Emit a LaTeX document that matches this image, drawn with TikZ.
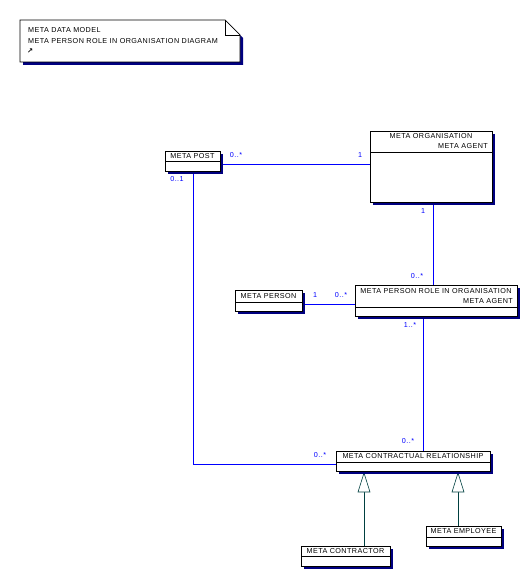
\documentclass[tikz,border=0pt]{standalone}
\usepackage{fontspec}
\setmainfont{Liberation Sans}
\newfontfamily\dfont[LetterSpace=6]{Liberation Sans}
\newfontfamily\symfont{DejaVu Sans}
\usetikzlibrary{arrows.meta}
\definecolor{assoc}{HTML}{0000FF}
\definecolor{shad}{HTML}{000080}
\definecolor{gen}{HTML}{004040}
\tikzset{
  x=1pt,y=-1pt,
  lbl/.style={font=\dfont\fontsize{7.2}{8}\selectfont, inner sep=0pt},
  mult/.style={font=\dfont\fontsize{7.2}{8}\selectfont, text=assoc, inner sep=0pt},
  assocline/.style={draw=assoc, line width=0.8pt},
  genline/.style={draw=gen, line width=0.8pt},
  boxline/.style={draw=black, line width=0.7pt, fill=white},
  shadowfill/.style={fill=shad}
}
\newcommand{\umlbox}[6]{% name, x1, y1, x2, y2, divider y
  \fill[shadowfill] (#2+3,#3+3) rectangle (#4+3,#5+3);
  \draw[boxline] (#2,#3) rectangle (#4,#5);
  \draw[black, line width=0.7pt] (#2,#6) -- (#4,#6);
  \coordinate (#1-nw) at (#2,#3);
  \coordinate (#1-se) at (#4,#5);
}
\begin{document}
\begin{tikzpicture}
\useasboundingbox (0,0) rectangle (531,580);
% note
\fill[shad] (23,23) -- (228,23) -- (243,38) -- (243,65) -- (23,65) -- cycle;
\draw[boxline] (20,20) -- (225,20) -- (240,35) -- (240,62) -- (20,62) -- cycle;
\draw[black, line width=0.7pt] (225,20) -- (225,35) -- (240,35);
\node[lbl, anchor=west] (n1) at (28,30) {META DATA MODEL};
\node[lbl, anchor=west] (n2) at (28,41) {META PERSON ROLE IN ORGANISATION DIAGRAM};
\node[lbl, anchor=west] (n3) at (27,51) {\symfont\bfseries ↗};

% connectors first (under boxes)
\coordinate (postR) at (220,164);
\coordinate (orgL) at (370,164);
\draw[assocline] (postR) -- (orgL);
\coordinate (postB) at (193,171);
\coordinate (crL) at (336,464);
\draw[assocline] (postB) |- (crL);
\coordinate (orgB) at (433,202);
\coordinate (prioT) at (433,285);
\draw[assocline] (orgB) -- (prioT);
\coordinate (personR) at (302,304);
\coordinate (prioL) at (355,304);
\draw[assocline] (personR) -- (prioL);
\coordinate (prioB) at (423,316);
\coordinate (crT) at (423,451);
\draw[assocline] (prioB) -- (crT);

% generalizations
\coordinate (conT) at (364,546);
\coordinate (triL) at (364,492);
\coordinate (empT) at (458,526);
\coordinate (triR) at (458,492);
\draw[genline] (conT) -- (triL);
\draw[genline] (empT) -- (triR);
\draw[gen, line width=0.6pt, fill=white] (364,473) -- (370,492) -- (358,492) -- cycle;
\draw[gen, line width=0.6pt, fill=white] (458,473) -- (464,492) -- (452,492) -- cycle;

% boxes
\umlbox{post}{165}{151}{220}{171}{161}
\node[lbl] (postT) at (192.5,156) {META POST};

\umlbox{org}{370}{131}{492}{202}{152}
\node[lbl] (orgT1) at (431,136) {META ORGANISATION};
\node[lbl, anchor=east] (orgT2) at (488,146) {META AGENT};

\umlbox{person}{235}{290}{302}{311}{302}
\node[lbl] (personT) at (268.5,296) {META PERSON};

\umlbox{prio}{355}{285}{517}{316}{307}
\node[lbl] (prioT1) at (436,291) {META PERSON ROLE IN ORGANISATION};
\node[lbl, anchor=east] (prioT2) at (513,301) {META AGENT};

\umlbox{cr}{336}{451}{490}{471}{462}
\node[lbl] (crTx) at (413,456) {META CONTRACTUAL RELATIONSHIP};

\umlbox{con}{301}{546}{390}{566}{556}
\node[lbl] (conTx) at (345.5,551) {META CONTRACTOR};

\umlbox{emp}{426}{526}{501}{546}{537}
\node[lbl] (empTx) at (463.5,531) {META EMPLOYEE};

% multiplicities
\node[mult] (m1) at (236,155) {0..*};
\node[mult] (m2) at (360,155) {1};
\node[mult] (m3) at (177,179) {0..1};
\node[mult] (m4) at (423,211) {1};
\node[mult] (m5) at (417,276) {0..*};
\node[mult] (m6) at (315,295) {1};
\node[mult] (m7) at (341,295) {0..*};
\node[mult] (m8) at (410,325) {1..*};
\node[mult] (m9) at (408,441) {0..*};
\node[mult] (m10) at (320,455) {0..*};
\end{tikzpicture}
\end{document}
